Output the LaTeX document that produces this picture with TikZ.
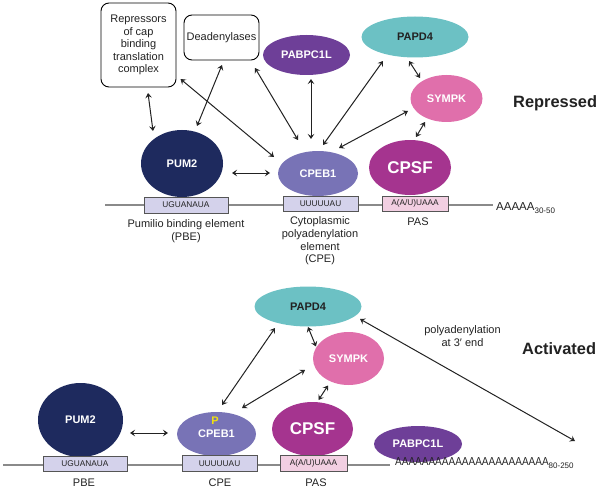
\documentclass[tikz,border=0pt]{standalone}
\usepackage{fontspec}
\setmainfont{Liberation Sans}
\usetikzlibrary{arrows.meta,shapes.geometric}
\definecolor{cpum}{HTML}{1E2A5E}
\definecolor{ccpeb}{HTML}{7873B6}
\definecolor{ccpsf}{HTML}{A5348F}
\definecolor{csym}{HTML}{E06FAB}
\definecolor{cpapd}{HTML}{6CC1C4}
\definecolor{cpabp}{HTML}{6E3F98}
\definecolor{clav}{HTML}{D4D2EB}
\definecolor{cpink}{HTML}{F2CFE2}
\definecolor{cyel}{HTML}{F0E010}
\definecolor{cborder}{HTML}{555555}
\definecolor{crna}{HTML}{8A8A8A}
\definecolor{ctext}{HTML}{222222}
\newcommand{\subtxt}[1]{\raisebox{-2.5pt}{\fontsize{8}{8}\selectfont #1}}
\begin{document}
\begin{tikzpicture}[x=1pt,y=-1pt,
  prot/.style={ellipse,inner sep=0pt,font=\bfseries\fontsize{11}{12}\selectfont,text=white},
  bigprot/.style={prot,font=\bfseries\fontsize{17}{18}\selectfont},
  seqbox/.style={rectangle,draw=cborder,line width=0.8pt,inner sep=0pt,font=\fontsize{8.3}{10}\selectfont,text=ctext},
  lbl/.style={inner sep=0pt,align=center,font=\fontsize{11}{12.7}\selectfont,text=ctext},
  rbox/.style={draw=black,rounded corners=8pt,line width=0.9pt,inner sep=0pt,align=center,font=\fontsize{11}{12.5}\selectfont,text=ctext},
  statelbl/.style={inner sep=0pt,anchor=west,font=\bfseries\fontsize{16.4}{18}\selectfont,text=ctext},
  tailtxt/.style={inner sep=0pt,anchor=west,font=\fontsize{11.5}{12}\selectfont,text=ctext},
  rna/.style={draw=crna,line width=1.1pt},
  biarrow/.style={{Stealth[length=5pt,width=6.5pt,inset=2pt]}-{Stealth[length=5pt,width=6.5pt,inset=2pt]},line width=1pt,draw=ctext}
]
\useasboundingbox (0,0) rectangle (601,489);

% ---------------- Repressed ----------------
\node[tailtxt] (tail1) at (496,208) {AAAAA\subtxt{30-50}};
\coordinate (rna1start) at (105,205);
\draw[rna] (rna1start) -- ([xshift=-3pt]tail1.west |- rna1start);

\node[rbox,minimum width=75pt,minimum height=84pt] (rep) at (138.5,45)
  {Repressors\\of cap\\binding\\translation\\complex};
\node[rbox,minimum width=75pt,minimum height=45pt] (dead) at (221.5,37.5) {Deadenylases};
\node[prot,fill=cpabp,minimum width=87pt,minimum height=40pt] (pab1) at (306.5,55) {PABPC1L};
\node[prot,fill=cpapd,text=ctext,minimum width=107pt,minimum height=41pt] (papd1) at (415,37) {PAPD4};
\node[prot,fill=csym,minimum width=72pt,minimum height=47pt] (sym1) at (446.5,98.5) {SYMPK};
\node[prot,fill=cpum,minimum width=82pt,minimum height=67pt] (pum1) at (182,163.5) {PUM2};
\node[prot,fill=ccpeb,minimum width=80pt,minimum height=45pt] (cpeb1) at (318,173.5) {CPEB1};
\node[bigprot,fill=ccpsf,minimum width=82pt,minimum height=55pt] (cpsf1) at (410,167.5) {CPSF};

\node[seqbox,fill=clav,minimum width=84pt,minimum height=16pt] (pbe1) at (186,205) {UGUANAUA};
\node[seqbox,fill=clav,minimum width=75pt,minimum height=15pt] (cpe1) at (320.5,204) {UUUUUAU};
\node[seqbox,fill=cpink,minimum width=66pt,minimum height=15pt] (pas1) at (415,203.5) {A(A/U)UAAA};

\node[lbl] (pbel1) at (186,231) {Pumilio binding element\\(PBE)};
\node[lbl] (cpel1) at (320,241) {Cytoplasmic\\polyadenylation\\element\\(CPE)};
\node[lbl] (pasl1) at (418,222) {PAS};
\node[statelbl] (repressed) at (513,103) {Repressed};

\draw[biarrow] ([shift={(9.5,48)}]rep.center) -- ([shift={(-29,-32.5)}]pum1.center);
\draw[biarrow] ([shift={(0.5,27.5)}]dead.center) -- ([shift={(15,-37.5)}]pum1.center);
\draw[biarrow] ([shift={(42,34)}]rep.center) -- ([shift={(-44,-16.5)}]cpeb1.center);
\draw[biarrow] ([shift={(33.5,30.5)}]dead.center) -- ([shift={(-20,-33.5)}]cpeb1.center);
\draw[biarrow] ([shift={(4.5,24)}]pab1.center) -- ([shift={(-7,-34.5)}]cpeb1.center);
\draw[biarrow] ([shift={(-32,24)}]papd1.center) -- ([shift={(5,-28.5)}]cpeb1.center);
\draw[biarrow] ([shift={(-38.5,12.5)}]sym1.center) -- ([shift={(21,-25.5)}]cpeb1.center);
\draw[biarrow] ([shift={(-6,24)}]papd1.center) -- ([shift={(-26.5,-20.5)}]sym1.center);
\draw[biarrow] ([shift={(-21.5,23.5)}]sym1.center) -- ([shift={(6,-30.5)}]cpsf1.center);
\draw[biarrow] ([shift={(50,9.5)}]pum1.center) -- ([shift={(-48,-0.5)}]cpeb1.center);

% ---------------- Activated ----------------
\node[prot,fill=cpapd,text=ctext,minimum width=107pt,minimum height=40pt] (papd2) at (308,306.5) {PAPD4};
\node[prot,fill=csym,minimum width=71pt,minimum height=53pt] (sym2) at (348.5,358.5) {SYMPK};
\node[bigprot,fill=ccpsf,minimum width=81pt,minimum height=54pt] (cpsf2) at (312.5,429) {CPSF};
\node[prot,fill=ccpeb,minimum width=79pt,minimum height=44pt] (cpeb2) at (216.5,434) {CPEB1};
\node[inner sep=0pt,font=\bfseries\fontsize{11}{12}\selectfont,text=cyel] (phos) at (215,421) {P};
\node[prot,fill=cpum,minimum width=85pt,minimum height=74pt] (pum2) at (80.5,420) {PUM2};
\node[prot,fill=cpabp,minimum width=88pt,minimum height=36pt] (pab2) at (418,444) {PABPC1L};

\coordinate (rna2start) at (3,465);
\node[tailtxt] (tail2) at (395,463)
  {\scalebox{0.87}[1]{AAAAAAAAAAAAAAAAAAAAAAA}\subtxt{80-250}};
\draw[rna] (rna2start) -- ([xshift=-5pt]tail2.west |- rna2start);

\node[seqbox,fill=clav,minimum width=84pt,minimum height=15pt] (pbe2) at (85,463.5) {UGUANAUA};
\node[seqbox,fill=clav,minimum width=75pt,minimum height=16pt] (cpe2) at (219.5,463.5) {UUUUUAU};
\node[seqbox,fill=cpink,minimum width=67pt,minimum height=16pt] (pas2) at (313.5,463) {A(A/U)UAAA};

\node[lbl] (pbel2) at (84,483) {PBE};
\node[lbl] (cpel2) at (220,483) {CPE};
\node[lbl] (pasl2) at (316,483) {PAS};
\node[lbl] (polyl) at (462.5,336) {polyadenylation\\at 3′ end};
\node[statelbl] (activated) at (522,349) {Activated};

\coordinate (tailend) at (575,441);
\draw[biarrow] ([shift={(-33,21.5)}]papd2.center) -- ([shift={(5.5,-29)}]cpeb2.center);
\draw[biarrow] ([shift={(-43.5,11.5)}]sym2.center) -- ([shift={(25.5,-26)}]cpeb2.center);
\draw[biarrow] ([shift={(0,20.5)}]papd2.center) -- ([shift={(-32.5,-12)}]sym2.center);
\draw[biarrow] ([shift={(-20.5,27)}]sym2.center) -- ([shift={(6,-29)}]cpsf2.center);
\draw[biarrow] ([shift={(52,12.5)}]papd2.center) -- (tailend);
\draw[biarrow] ([shift={(49.5,13)}]pum2.center) -- ([shift={(-48.5,-1)}]cpeb2.center);
\end{tikzpicture}
\end{document}
